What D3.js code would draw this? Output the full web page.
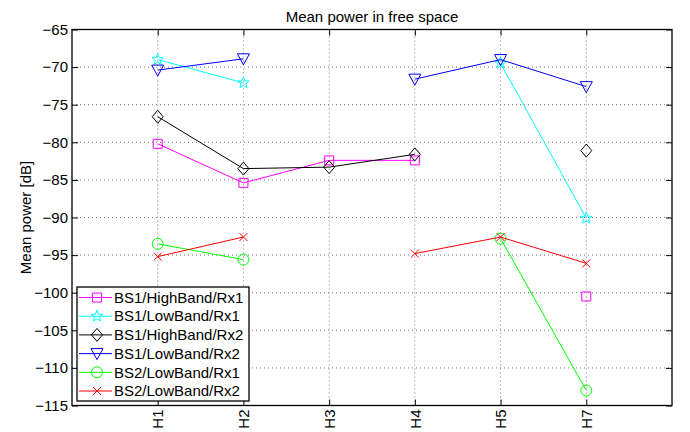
<!DOCTYPE html>
<html>
<head>
<meta charset="utf-8">
<script src="https://cdn.jsdelivr.net/npm/d3@7"></script>
<style>
  body { margin: 0; background: #fff; }
  text { font-family: "Liberation Sans", Arial, sans-serif; fill: #000; }
  .grid line { stroke: #555; stroke-dasharray: 1,3; stroke-width: 0.8; }
</style>
</head>
<body>
<div id="chart"></div>
<script>
// categories (H6 is not measured)
const categories = ["H1", "H2", "H3", "H4", "H5", "H7"];
const yTicks = [-115, -110, -105, -100, -95, -90, -85, -80, -75, -70, -65];

const seriesNames = [
    "BS1/HighBand/Rx1",
    "BS1/LowBand/Rx1",
    "BS1/HighBand/Rx2",
    "BS1/LowBand/Rx2",
    "BS2/LowBand/Rx1",
    "BS2/LowBand/Rx2"
];
const bs1HighRx1 = [-80.2, -85.4, -82.4, -82.4, null, -100.5];
const bs1LowRx1 = [-69.0, -72.1, null, null, -69.5, -90.1];
const bs1HighRx2 = [-76.6, -83.5, -83.3, -81.6, null, -81.1];
const bs1LowRx2 = [-70.4, -68.9, null, -71.6, -69.0, -72.6];
const bs2LowRx1 = [-93.5, -95.6, null, null, -92.8, -113.0];
const bs2LowRx2 = [-95.2, -92.6, null, -94.8, -92.6, -96.1];

const seriesColors = ["#ff00ff", "#00ffff", "#000000", "#0000ff", "#00ff00", "#ff0000"];
const seriesMarkers = ["square", "star", "diamond", "triangle", "circle", "x"];

const allSeries = [bs1HighRx1, bs1LowRx1, bs1HighRx2, bs1LowRx2, bs2LowRx1, bs2LowRx2];

const width = 690;
const height = 432;
const margin = { top: 29.5, right: 18, bottom: 26.5, left: 72 };

const svg = d3.select("#chart").append("svg")
    .attr("width", width)
    .attr("height", height);

const x = d3.scaleLinear()
    .domain([0, categories.length + 1])
    .range([margin.left, width - margin.right]);
const y = d3.scaleLinear()
    .domain([-115, -65])
    .range([height - margin.bottom, margin.top]);

const plotW = width - margin.right - margin.left;
const plotH = height - margin.bottom - margin.top;
const catPos = categories.map((c, i) => i + 1);

// grid
const grid = svg.append("g").attr("class", "grid");
grid.selectAll(".gx")
    .data(catPos)
    .enter()
    .append("line")
    .attr("x1", d => x(d)).attr("x2", d => x(d))
    .attr("y1", y.range()[0]).attr("y2", y.range()[1]);
grid.selectAll(".gy")
    .data(yTicks.slice(1, -1))
    .enter()
    .append("line")
    .attr("y1", d => y(d)).attr("y2", d => y(d))
    .attr("x1", x.range()[0]).attr("x2", x.range()[1]);

// axes
const xAxis = d3.axisBottom(x)
    .tickValues(catPos)
    .tickFormat((d, i) => categories[i])
    .tickSizeInner(-6)
    .tickSizeOuter(0);
const gx = svg.append("g")
    .attr("transform", `translate(0,${y.range()[0]})`)
    .call(xAxis);
gx.selectAll("text")
    .attr("transform", "rotate(-90)")
    .attr("text-anchor", "end")
    .attr("x", -4)
    .attr("y", 0)
    .attr("dy", "0.35em");

const yAxis = d3.axisLeft(y)
    .tickValues(yTicks)
    .tickSizeInner(-6)
    .tickSizeOuter(0)
    .tickPadding(4);
const gy = svg.append("g")
    .attr("transform", `translate(${x.range()[0]},0)`)
    .call(yAxis);

// mirrored ticks on top and right
svg.append("g")
    .attr("transform", `translate(0,${y.range()[1]})`)
    .call(d3.axisTop(x).tickValues(catPos).tickSizeInner(-6).tickSizeOuter(0).tickFormat(""));
svg.append("g")
    .attr("transform", `translate(${x.range()[1]},0)`)
    .call(d3.axisRight(y).tickValues(yTicks).tickSizeInner(-6).tickSizeOuter(0).tickFormat(""));

svg.selectAll(".domain").remove();
svg.selectAll(".tick line").attr("stroke", "#000").attr("stroke-width", 1);
svg.selectAll(".tick text").style("font-size", "15px").attr("fill", "#000");

svg.append("rect")
    .attr("x", x.range()[0])
    .attr("y", y.range()[1])
    .attr("width", plotW)
    .attr("height", plotH)
    .attr("fill", "none")
    .attr("stroke", "#000")
    .attr("stroke-width", 1.3);

// marker shapes
function markerPath(type) {
    switch (type) {
        case "square": return "M-4.5,-4.5H4.5V4.5H-4.5Z";
        case "diamond": return "M0,-6.5L5.5,0L0,6.5L-5.5,0Z";
        case "triangle": return "M-6,-5L6,-5L0,6Z";
        case "x": return "M-4,-4L4,4M-4,4L4,-4";
        case "star": {
            const pts = [];
            for (let k = 0; k < 10; k++) {
                const r = k % 2 === 0 ? 6 : 2.6;
                const a = -Math.PI / 2 + k * Math.PI / 5;
                pts.push([r * Math.cos(a), r * Math.sin(a)]);
            }
            return "M" + pts.map(p => p.join(",")).join("L") + "Z";
        }
        default: return null;
    }
}

function drawMarker(g, type, color) {
    if (type === "circle") {
        g.append("circle").attr("r", 5.5)
            .attr("fill", "none").attr("stroke", color).attr("stroke-width", 1);
    } else {
        g.append("path").attr("d", markerPath(type))
            .attr("fill", "none").attr("stroke", color).attr("stroke-width", 1);
    }
}

const line = d3.line()
    .defined(d => d.v !== null)
    .x(d => x(d.p))
    .y(d => y(d.v));

allSeries.forEach((vals, s) => {
    const pts = vals.map((v, i) => ({ p: catPos[i], v: v }));
    svg.append("path")
        .datum(pts)
        .attr("d", line)
        .attr("fill", "none")
        .attr("stroke", seriesColors[s])
        .attr("stroke-width", 1);
    pts.filter(d => d.v !== null).forEach(d => {
        const g = svg.append("g").attr("transform", `translate(${x(d.p)},${y(d.v)})`);
        drawMarker(g, seriesMarkers[s], seriesColors[s]);
    });
});

// legend
const legend = svg.append("g").attr("transform", "translate(77,287)");
legend.append("rect")
    .attr("width", 172)
    .attr("height", 114)
    .attr("fill", "#fff")
    .attr("stroke", "#000")
    .attr("stroke-width", 1.3);
seriesNames.forEach((name, s) => {
    const ly = 10.5 + s * 18.7;
    legend.append("line")
        .attr("x1", 2).attr("x2", 35)
        .attr("y1", ly).attr("y2", ly)
        .attr("stroke", seriesColors[s]).attr("stroke-width", 1);
    const g = legend.append("g").attr("transform", `translate(20,${ly})`);
    drawMarker(g, seriesMarkers[s], seriesColors[s]);
    legend.append("text")
        .attr("x", 37)
        .attr("y", ly)
        .attr("dy", "0.35em")
        .style("font-size", "15px")
        .text(name);
});

// title and labels
svg.append("text")
    .attr("x", x.range()[0] + plotW / 2)
    .attr("y", 22)
    .attr("text-anchor", "middle")
    .style("font-size", "15px")
    .text("Mean power in free space");

svg.append("text")
    .attr("transform", `translate(31,${y.range()[1] + plotH / 2}) rotate(-90)`)
    .attr("text-anchor", "middle")
    .style("font-size", "15px")
    .text("Mean power [dB]");
</script>
</body>
</html>
